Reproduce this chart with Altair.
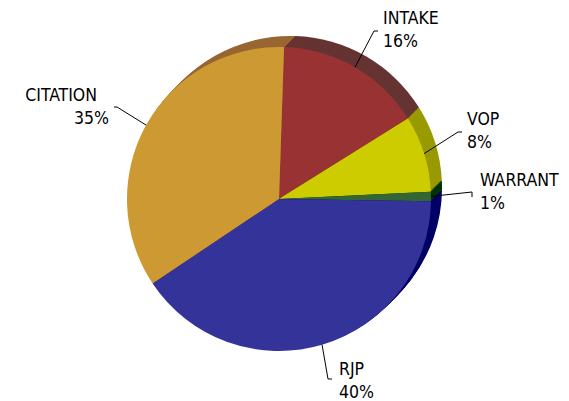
import altair as alt
import pandas as pd
import numpy as np

# ---- data ----
categories = ["INTAKE", "VOP", "WARRANT", "RJP", "CITATION"]
shares = [15.6, 8.1, 1.0, 40.4, 34.9]

# ---- styles ----
face_colors = ["#993333", "#CCCC00", "#336633", "#333399", "#CC9933"]
side_colors = ["#663333", "#999900", "#003300", "#000066", "#996633"]

W, H = 553, 393
CX, CY = 279 - 8, 199 - 8  # pie centre in plot coordinates
R = 152                  # pie radius
DEPTH = 11               # extrusion depth in px (towards upper right)
START = np.deg2rad(1.9)  # first slice start angle

# label layout: elbow of leader line and text anchor (page coordinates)
label_layout = {
    "INTAKE":   dict(elbow=(374, 31), end=(378, 31), tx=383, ty=24, align="left"),
    "VOP":      dict(elbow=(458, 132), end=(462, 132), tx=467, ty=125, align="left"),
    "WARRANT":  dict(elbow=(472, 192), end=(472, 197), tx=480, ty=186, align="left"),
    "RJP":      dict(elbow=(328, 379), end=(332, 379), tx=339, ty=375, align="left"),
    "CITATION": dict(elbow=(117, 107), end=(114, 107), tx=97, ty=101, align="right",
                     tx2=109),
}
LINE_STEP = 23

# ---- geometry from the data ----
total = float(sum(shares))
ang = np.cumsum([0.0] + shares) / total * 2 * np.pi + START
t0, t1 = ang[:-1], ang[1:]

rows = []
for k in range(DEPTH, -1, -1):
    for i, c in enumerate(categories):
        rows.append(dict(cat=c, t0=t0[i], t1=t1[i], cx=CX + k, cy=CY - k,
                         fill=face_colors[i] if k == 0 else side_colors[i],
                         layer=DEPTH - k))
arc_df = pd.DataFrame(rows)

seg_rows, txt_rows = [], []
for i, c in enumerate(categories):
    mid = (t0[i] + t1[i]) / 2
    rx = CX + R * np.sin(mid)
    ry = CY - R * np.cos(mid)
    L = label_layout[c]
    ex, ey = L["elbow"][0] - 8, L["elbow"][1] - 8
    fx, fy = L["end"][0] - 8, L["end"][1] - 8
    seg_rows.append(dict(x=rx, y=ry, x2=ex, y2=ey))
    seg_rows.append(dict(x=ex, y=ey, x2=fx, y2=fy))
    pct = f"{round(shares[i] / total * 100)}%"
    tx2 = L.get("tx2", L["tx"])
    txt_rows.append(dict(text=c, x=L["tx"] - 8, y=L["ty"] - 8, align=L["align"]))
    txt_rows.append(dict(text=pct, x=tx2 - 8, y=L["ty"] + LINE_STEP - 8, align=L["align"]))
seg_df = pd.DataFrame(seg_rows)
txt_df = pd.DataFrame(txt_rows)

arcs = alt.Chart(arc_df).mark_arc(radius=R).encode(
    x=alt.X("cx:Q", scale=None, axis=None),
    y=alt.Y("cy:Q", scale=None, axis=None),
    theta=alt.Theta("t0:Q", scale=None, stack=False),
    theta2="t1:Q",
    fill=alt.Fill("fill:N", scale=None),
    order=alt.Order("layer:Q"),
)

leaders = alt.Chart(seg_df).mark_rule(color="black", strokeWidth=1).encode(
    x=alt.X("x:Q", scale=None, axis=None),
    y=alt.Y("y:Q", scale=None, axis=None),
    x2="x2:Q",
    y2="y2:Q",
)

def text_layer(align):
    return alt.Chart(txt_df[txt_df["align"] == align]).mark_text(
        align=align, baseline="alphabetic", font="DejaVu Sans Condensed", fontSize=17.5,
        color="black",
    ).encode(
        x=alt.X("x:Q", scale=None, axis=None),
        y=alt.Y("y:Q", scale=None, axis=None),
        text="text:N",
    )

chart = alt.layer(arcs, leaders, text_layer("left"), text_layer("right")).properties(
    width=W, height=H, padding=0,
    autosize=alt.AutoSizeParams(type="none"),
).configure_view(strokeWidth=0)

chart.save("out.html", embed_options={"renderer": "svg", "actions": False})
